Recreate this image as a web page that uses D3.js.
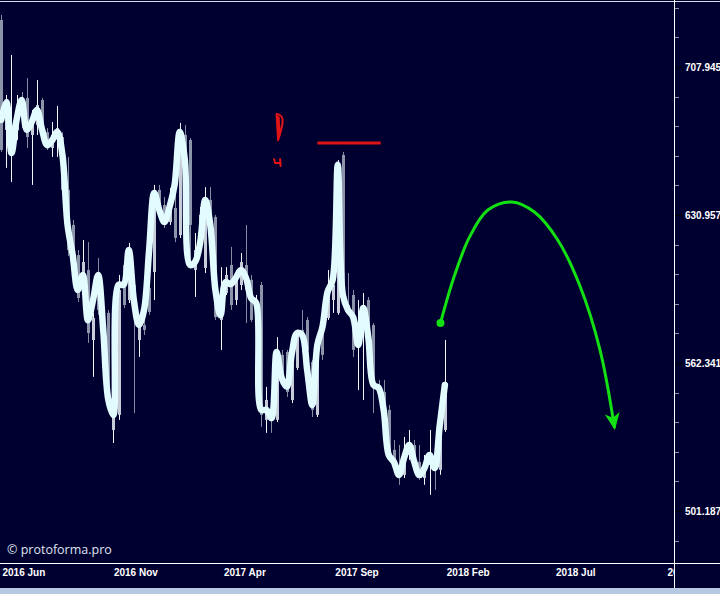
<!DOCTYPE html>
<html><head><meta charset="utf-8">
<script src="https://cdn.jsdelivr.net/npm/d3@7/dist/d3.min.js"></script>
<style>html,body{margin:0;padding:0;background:#000030;}svg{display:block;}</style>
</head><body>
<script>
// ---------- DATA ----------
const firstWeek = "2016-05-31";
const opens = [734.3,674.1,663.7,674.1,690.0,691.1,671.5,676.7,690.0,673.0,664.7,669.9,670.4,643.4,626.1,611.6,593.8,604.5,572.5,603.6,586.0,584.7,533.8,540.1,606.9,590.6,597.5,572.5,579.2,596.1,603.6,643.4,635.9,627.5,634.4,621.2,671.5,668.9,604.5,618.8,605.5,638.4,630.0,581.5,593.8,606.9,590.6,597.5,606.9,599.9,588.3,597.5,538.0,542.2,538.0,565.9,567.2,546.4,560.2,577.0,581.5,562.8,540.1,575.6,582.4,590.6,584.7,661.1,588.3,592.9,570.3,577.0,590.6,579.2,552.8,549.8,542.2,525.6,519.5,515.5,523.5,527.6,520.7,514.2,519.5,523.5,517.5,533.8];
const highs = [737.2,692.7,714.6,692.7,694.3,701.9,684.7,700.8,691.1,675.1,678.3,686.8,673.0,660.1,628.5,614.0,618.8,617.8,584.7,610.2,590.6,586.0,548.5,602.2,608.3,617.4,598.5,580.1,582.4,596.6,645.9,645.9,639.9,644.4,648.4,677.8,676.7,669.9,622.2,634.9,644.8,644.8,631.0,605.9,605.9,615.5,604.5,612.6,626.1,602.2,592.9,598.9,552.0,544.3,573.8,568.1,568.1,569.4,577.0,586.0,582.8,563.7,573.6,577.0,604.5,599.9,658.5,662.7,603.1,595.2,590.6,593.8,592.0,580.1,555.0,555.0,544.3,529.7,527.6,530.9,533.8,529.7,527.6,523.5,533.8,525.6,538.0,572.5];
const lows = [662.7,654.5,647.4,668.9,675.1,664.7,645.9,671.5,669.9,663.7,660.1,660.1,640.9,611.2,608.3,589.7,592.4,571.2,556.3,583.8,572.5,545.6,528.4,538.0,586.9,589.2,540.9,565.0,574.7,583.8,590.6,632.4,624.6,626.1,617.8,619.8,653.4,605.5,592.0,616.4,603.1,618.8,581.5,568.1,592.9,586.0,588.3,595.2,580.1,580.6,586.0,535.1,532.6,532.6,537.1,552.8,547.7,545.1,559.3,566.8,566.8,539.2,539.2,563.7,581.5,584.7,583.8,592.9,584.7,565.0,550.7,546.4,576.1,540.9,548.5,538.0,521.5,517.5,511.5,514.2,521.5,517.5,513.5,511.5,507.5,509.5,515.5,533.0];
const closes = [663.7,690.0,674.1,684.7,682.0,670.4,679.4,687.3,671.5,665.2,671.5,675.1,643.4,614.0,610.7,591.5,608.3,575.6,582.4,586.0,574.7,546.4,540.1,595.2,588.3,611.6,588.3,579.2,577.0,585.1,643.4,634.4,626.1,640.9,619.8,671.5,656.0,626.1,614.0,631.0,638.4,626.1,582.8,590.6,602.2,588.3,599.9,608.3,595.2,581.5,590.6,540.1,546.4,538.8,568.1,555.0,549.8,567.2,574.7,572.5,568.1,542.2,570.3,565.9,597.5,597.5,656.0,595.2,586.0,568.1,572.5,586.0,577.0,552.8,550.7,542.2,523.5,519.5,515.5,522.3,527.6,520.7,515.5,519.5,523.5,517.5,533.8,552.8];
const trend = [679.4,689.0,662.1,679.4,690.0,674.2,678.4,684.7,674.2,666.2,668.8,673.1,661.0,626.1,611.7,595.2,602.2,581.4,590.6,602.2,577.0,546.4,540.0,597.6,597.6,614.0,590.6,579.2,586.0,614.0,641.9,633.4,627.5,634.9,646.0,673.1,658.6,606.9,608.3,617.4,638.4,626.1,595.2,583.6,598.9,597.9,600.8,604.5,600.8,591.5,589.2,542.2,542.2,538.7,567.2,555.8,552.0,566.7,575.6,574.7,559.3,544.3,570.3,578.4,594.3,599.9,656.1,592.9,586.0,582.8,570.3,586.9,573.4,552.8,551.6,542.2,523.5,520.7,515.4,522.3,527.6,520.7,515.4,518.2,523.5,518.2,535.7,552.8];

const forecastDates = ["2018-01-24","2018-02-12","2018-03-05","2018-03-30","2018-05-02","2018-06-02","2018-07-04","2018-08-03","2018-08-31","2018-09-20"];
const forecastValues = [580.1,601.7,620.3,633.4,637.4,632.4,618.8,597.5,568.1,534.6];

const levelDates = ["2017-08-08","2017-11-03"];
const levelValue = 667.3;
const markDate = "2017-06-13";
const markValue = 683;

const xTickDates = ["2016-06-01","2016-11-01","2017-04-01","2017-09-01","2018-02-01","2018-07-01","2018-12-01"];
const yTickValues = [501.187, 562.341, 630.957, 707.945];
const yMinorExp = [2.69,2.71,2.72,2.73,2.74,2.76,2.77,2.78,2.79,2.81,2.82,2.83,2.84,2.86,2.87];
const watermark = "© protoforma.pro";

// ---------- SETUP ----------
const W = 720, H = 594;
const plotRight = 674, plotTop = 2, plotBottom = 563;
const parse = d3.timeParse("%Y-%m-%d");
const start = parse(firstWeek);
const dates = opens.map((_, i) => d3.timeDay.offset(start, 7 * i));

const x = d3.scaleTime().domain([parse("2016-06-01"), parse("2018-12-01")]).range([2, 667]);
const y = d3.scaleLog().domain([501.187, 707.945]).range([511, 67]);

const svg = d3.select("body").append("svg").attr("width", W).attr("height", H);
svg.append("rect").attr("width", W).attr("height", H).attr("fill", "#000030");

const defs = svg.append("defs");
defs.append("clipPath").attr("id", "plot").append("rect")
  .attr("x", 0).attr("y", plotTop).attr("width", plotRight).attr("height", plotBottom - plotTop);
defs.append("clipPath").attr("id", "xlab").append("rect")
  .attr("x", 0).attr("y", plotBottom).attr("width", plotRight).attr("height", 30);
defs.append("marker").attr("id", "arrow").attr("markerUnits", "userSpaceOnUse")
  .attr("viewBox", "0 0 18 16").attr("markerWidth", 18).attr("markerHeight", 16)
  .attr("refX", 15).attr("refY", 8).attr("orient", "auto")
  .append("path").attr("d", "M0,0.5 L17,8 L0,15.5 L4.5,8 Z").attr("fill", "#12e012");

const plot = svg.append("g").attr("clip-path", "url(#plot)");

// bars
const bars = plot.append("g");
dates.forEach((d, i) => {
  const cx = Math.round(x(d)) + 0.5;
  const up = closes[i] >= opens[i];
  bars.append("line").attr("x1", cx).attr("x2", cx)
    .attr("y1", y(highs[i])).attr("y2", y(lows[i]))
    .attr("stroke", up ? "#f2f6ff" : "#848ca2").attr("stroke-width", 1);
  const top = y(Math.max(opens[i], closes[i])), bot = y(Math.min(opens[i], closes[i]));
  bars.append("rect").attr("x", cx - 1.5).attr("width", 3)
    .attr("y", top).attr("height", Math.max(1, bot - top))
    .attr("fill", up ? "#c8ccd8" : "#8c94aa");
});

// smooth trend line
plot.append("path")
  .datum(trend.map((v, i) => [dates[i], v]))
  .attr("d", d3.line().x(d => x(d[0])).y(d => y(d[1])).curve(d3.curveCatmullRom.alpha(0.5)))
  .attr("fill", "none").attr("stroke", "#e2fbff").attr("stroke-width", 6.5)
  .attr("stroke-linejoin", "round").attr("stroke-linecap", "round");

// red level
plot.append("line")
  .attr("x1", x(parse(levelDates[0]))).attr("x2", x(parse(levelDates[1])))
  .attr("y1", y(levelValue)).attr("y2", y(levelValue))
  .attr("stroke", "#dd1414").attr("stroke-width", 3);

// red marks
const mx = x(parse(markDate)), my = y(markValue);
const mk = plot.append("g").attr("transform", `translate(${mx},${my})`)
  .attr("fill", "none").attr("stroke", "#e01414").attr("stroke-width", 2).attr("stroke-linecap", "round");
mk.append("path").attr("d", "M0,1 L1.5,27 M0,1 C4,1 6.5,4 6,9 C5.5,15 3.5,21 1.5,27 M2,4 L3,20");
mk.append("path").attr("d", "M-2.5,46 L-1.5,50 L4,50 M3.5,46 L4,53");

// forecast curve
const fc = forecastDates.map((d, i) => [parse(d), forecastValues[i]]);
plot.append("path").datum(fc)
  .attr("d", d3.line().x(d => x(d[0])).y(d => y(d[1])).curve(d3.curveCatmullRom.alpha(0.5)))
  .attr("fill", "none").attr("stroke", "#12e012").attr("stroke-width", 3)
  .attr("marker-end", "url(#arrow)");
plot.append("circle").attr("cx", x(fc[0][0])).attr("cy", y(fc[0][1])).attr("r", 4).attr("fill", "#12e012");

// watermark
svg.append("text").attr("x", 7).attr("y", 554).text(watermark)
  .attr("fill", "#dfe3ef").attr("font-family", "'Open Sans', 'Noto Sans', sans-serif").attr("font-size", 12.5);

// frame lines
svg.append("line").attr("x1", 0).attr("x2", W).attr("y1", 1.5).attr("y2", 1.5).attr("stroke", "#d8dde8").attr("stroke-width", 1);
svg.append("line").attr("x1", 0).attr("x2", W).attr("y1", plotBottom + 0.5).attr("y2", plotBottom + 0.5).attr("stroke", "#ffffff").attr("stroke-width", 1);
svg.append("line").attr("x1", plotRight + 0.5).attr("x2", plotRight + 0.5).attr("y1", 0).attr("y2", H).attr("stroke", "#ffffff").attr("stroke-width", 1);

// y axis
const yAxis = d3.axisRight(y).tickValues(yTickValues).tickFormat(d3.format(".3f")).tickSize(7).tickPadding(3);
const gy = svg.append("g").attr("transform", `translate(${plotRight + 1},0)`).call(yAxis);
gy.select(".domain").remove();
gy.selectAll(".tick line").attr("stroke", "#000000");
gy.selectAll(".tick text").attr("fill", "#ffffff").attr("font-family", "'Liberation Sans', Arial, sans-serif")
  .attr("font-size", 10).attr("font-weight", "bold");
svg.append("g").selectAll("line").data(yMinorExp).join("line")
  .attr("x1", plotRight + 1).attr("x2", plotRight + 5)
  .attr("y1", d => Math.round(y(Math.pow(10, d))) + 0.5).attr("y2", d => Math.round(y(Math.pow(10, d))) + 0.5)
  .attr("stroke", "#8a92a6").attr("stroke-width", 1);

// x axis (clipped at the price axis)
const gxWrap = svg.append("g").attr("clip-path", "url(#xlab)");
const xAxis = d3.axisBottom(x).tickValues(xTickDates.map(parse)).tickFormat(d3.timeFormat("%Y %b")).tickSize(0).tickPadding(6);
const gx = gxWrap.append("g").attr("transform", `translate(0,${plotBottom})`).call(xAxis);
gx.select(".domain").remove();
gx.selectAll(".tick text").attr("text-anchor", "start").attr("fill", "#ffffff")
  .attr("font-family", "'Liberation Sans', Arial, sans-serif").attr("font-size", 10).attr("font-weight", "bold");

// bottom strip
svg.append("rect").attr("x", 0).attr("y", 588).attr("width", W).attr("height", 6).attr("fill", "#b6c9e2");
</script>
</body></html>
